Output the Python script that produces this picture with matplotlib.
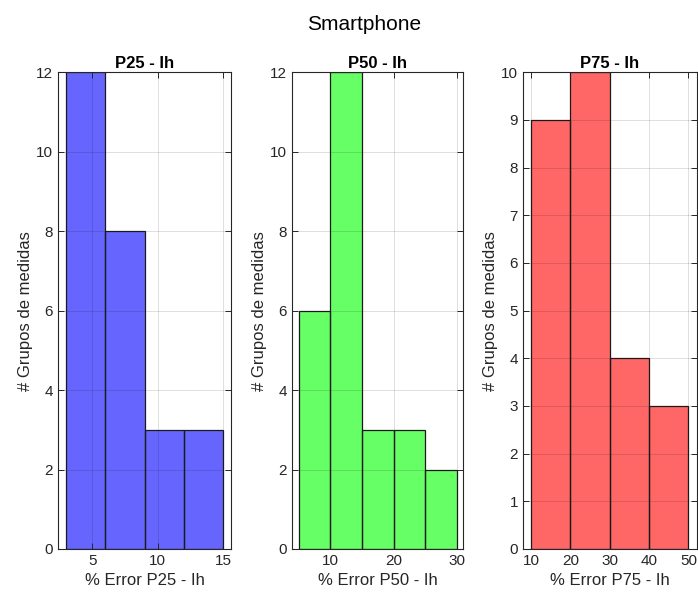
import numpy as np
import matplotlib.pyplot as plt

plt.rcParams['font.family'] = ['Liberation Sans', 'DejaVu Sans']

# Histogramas por percentil
edges_p25 = [3, 6, 9, 12, 15]
counts_p25 = [12, 8, 3, 3]
edges_p50 = [5, 10, 15, 20, 25, 30]
counts_p50 = [6, 12, 3, 3, 2]
edges_p75 = [10, 20, 30, 40, 50]
counts_p75 = [9, 10, 4, 3]

titles = ['P25 - Ih', 'P50 - Ih', 'P75 - Ih']
xlabels = ['% Error P25 - Ih', '% Error P50 - Ih', '% Error P75 - Ih']
colors = ['#0000ff', '#00ff00', '#ff0000']

fig = plt.figure(figsize=(6.98, 5.99), dpi=100)
fig.suptitle('Smartphone', fontsize=15, x=0.521, y=0.975)

bottom, height = 0.0835, 0.796
lefts = [0.0831, 0.4183, 0.749]
widths = [0.248, 0.245, 0.249]
xlims = [(2.4, 15.6), (3.9, 31.0), (7.9, 52.1)]
xticks = [[5, 10, 15], [10, 20, 30], [10, 20, 30, 40, 50]]
ylims = [12, 12, 10]
ysteps = [2, 2, 1]

datos = [(edges_p25, counts_p25), (edges_p50, counts_p50), (edges_p75, counts_p75)]

for i, (edges, counts) in enumerate(datos):
    ax = fig.add_axes([lefts[i], bottom, widths[i], height])
    e = np.array(edges)
    ax.bar(e[:-1], counts, width=np.diff(e), align='edge',
           color=colors[i], alpha=0.6, linewidth=0, zorder=1)
    # borde sin transparencia
    ax.bar(e[:-1], counts, width=np.diff(e), align='edge',
           fill=False, edgecolor='#1a1a1a', linewidth=0.9, zorder=3)
    ax.set_xlim(*xlims[i])
    ax.set_ylim(0, ylims[i])
    ax.set_xticks(xticks[i])
    ax.set_yticks(np.arange(0, ylims[i] + 1, ysteps[i]))
    ax.set_axisbelow(False)
    ax.grid(True, color='black', alpha=0.13, linewidth=0.7, zorder=2)
    ax.tick_params(direction='in', top=True, right=True, labelsize=11,
                   colors='#262626', length=4, width=0.7)
    for s in ax.spines.values():
        s.set_color('#262626')
        s.set_linewidth(0.8)
        s.set_zorder(4)
    ax.set_title(titles[i], fontsize=12, fontweight='bold', pad=3)
    ax.set_xlabel(xlabels[i], fontsize=12, color='#262626')
    ax.set_ylabel('# Grupos de medidas', fontsize=12, color='#262626', labelpad=2)

fig.savefig('out.png', dpi=100)
